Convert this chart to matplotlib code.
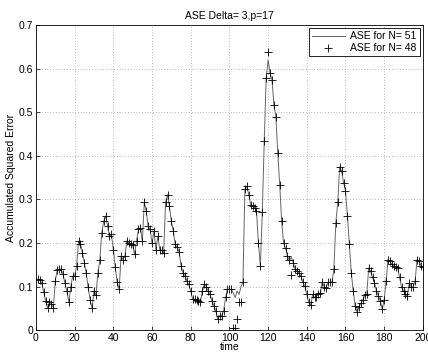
import numpy as np
import matplotlib
matplotlib.use("Agg")
import matplotlib.pyplot as plt

plt.rcParams['font.family'] = ['Liberation Sans', 'DejaVu Sans']

time = list(range(1, 201))

ase51 = [0.117, 0.116, 0.108, 0.088, 0.068, 0.050, 0.064, 0.060, 0.052, 0.113,
         0.138, 0.140, 0.140, 0.128, 0.108, 0.090, 0.064, 0.100, 0.124, 0.125,
         0.147, 0.204, 0.198, 0.178, 0.155, 0.130, 0.098, 0.070, 0.050, 0.090,
         0.080, 0.130, 0.160, 0.222, 0.250, 0.262, 0.240, 0.215, 0.220, 0.185,
         0.144, 0.110, 0.094, 0.170, 0.162, 0.170, 0.205, 0.200, 0.198, 0.195,
         0.174, 0.205, 0.231, 0.235, 0.205, 0.293, 0.273, 0.239, 0.231, 0.200,
         0.227, 0.185, 0.215, 0.185, 0.183, 0.176, 0.293, 0.311, 0.284, 0.250,
         0.227, 0.197, 0.190, 0.180, 0.147, 0.132, 0.125, 0.113, 0.105, 0.090,
         0.071, 0.071, 0.069, 0.067, 0.064, 0.090, 0.105, 0.100, 0.090, 0.082,
         0.067, 0.056, 0.044, 0.025, 0.033, 0.033, 0.044, 0.075, 0.094, 0.094,
         0.094, 0.085, 0.075, 0.090, 0.082, 0.100, 0.110, 0.323, 0.330, 0.311,
         0.288, 0.284, 0.281, 0.273, 0.200, 0.147, 0.270, 0.433, 0.578, 0.620,
         0.590, 0.574, 0.517, 0.490, 0.407, 0.334, 0.250, 0.200, 0.188, 0.170,
         0.160, 0.167, 0.155, 0.140, 0.136, 0.130, 0.124, 0.110, 0.101, 0.082,
         0.064, 0.057, 0.082, 0.075, 0.077, 0.082, 0.086, 0.110, 0.100, 0.097,
         0.110, 0.110, 0.110, 0.140, 0.246, 0.293, 0.374, 0.365, 0.338, 0.320,
         0.262, 0.197, 0.132, 0.090, 0.056, 0.041, 0.053, 0.062, 0.070, 0.080,
         0.082, 0.143, 0.135, 0.121, 0.109, 0.090, 0.079, 0.067, 0.048, 0.070,
         0.113, 0.162, 0.159, 0.151, 0.148, 0.145, 0.143, 0.121, 0.098, 0.090,
         0.082, 0.079, 0.109, 0.098, 0.100, 0.113, 0.162, 0.159, 0.148, 0.145]

ase48 = [0.117, 0.116, 0.108, 0.088, 0.068, 0.050, 0.064, 0.060, 0.052, 0.113,
         0.138, 0.140, 0.140, 0.128, 0.108, 0.090, 0.064, 0.100, 0.124, 0.125,
         0.147, 0.204, 0.198, 0.178, 0.155, 0.130, 0.098, 0.070, 0.050, 0.090,
         0.080, 0.130, 0.160, 0.222, 0.250, 0.262, 0.240, 0.215, 0.220, 0.185,
         0.144, 0.110, 0.094, 0.170, 0.162, 0.170, 0.205, 0.200, 0.198, 0.195,
         0.174, 0.205, 0.231, 0.235, 0.205, 0.293, 0.273, 0.239, 0.231, 0.200,
         0.227, 0.185, 0.215, 0.185, 0.183, 0.176, 0.293, 0.311, 0.284, 0.250,
         0.227, 0.197, 0.190, 0.180, 0.147, 0.132, 0.125, 0.113, 0.105, 0.090,
         0.071, 0.071, 0.069, 0.067, 0.064, 0.090, 0.105, 0.100, 0.090, 0.082,
         0.067, 0.056, 0.044, 0.025, 0.033, 0.033, 0.044, 0.075, 0.094, 0.094,
         0.094, 0.005, 0.005, 0.025, 0.064, 0.064, 0.110, 0.323, 0.330, 0.311,
         0.288, 0.284, 0.281, 0.273, 0.200, 0.147, 0.270, 0.433, 0.578, 0.637,
         0.590, 0.574, 0.517, 0.490, 0.407, 0.334, 0.250, 0.200, 0.188, 0.170,
         0.160, 0.126, 0.155, 0.140, 0.136, 0.130, 0.124, 0.110, 0.101, 0.082,
         0.064, 0.057, 0.082, 0.075, 0.077, 0.082, 0.086, 0.110, 0.100, 0.097,
         0.110, 0.110, 0.110, 0.140, 0.246, 0.293, 0.374, 0.365, 0.338, 0.320,
         0.262, 0.197, 0.132, 0.090, 0.056, 0.041, 0.053, 0.062, 0.070, 0.080,
         0.082, 0.143, 0.135, 0.121, 0.109, 0.090, 0.079, 0.067, 0.048, 0.070,
         0.113, 0.162, 0.159, 0.151, 0.148, 0.145, 0.143, 0.121, 0.098, 0.090,
         0.082, 0.079, 0.109, 0.098, 0.100, 0.113, 0.162, 0.159, 0.148, 0.145]

fig = plt.figure(figsize=(4.28, 3.52), dpi=100)
ax = fig.add_axes([0.084, 0.062, 0.904, 0.867])

ax.plot(time, ase51, '-', color='#666666', lw=0.7, label='ASE for N= 51')
ax.plot(time, ase48, '+', color='black', ms=6, mew=0.6, label='ASE for N= 48')

ax.set_xlim(0, 200)
ax.set_ylim(0, 0.7)
ax.set_xticks(np.arange(0, 201, 20))
ax.set_yticks(np.arange(0, 0.71, 0.1))
ax.set_yticklabels(['0', '0.1', '0.2', '0.3', '0.4', '0.5', '0.6', '0.7'])
ax.tick_params(direction='in', labelsize=7.5, length=3, width=0.5, pad=2)
ax.grid(True, linestyle=(0, (1, 3)), color='black', lw=0.5, alpha=0.5)
for s in ax.spines.values():
    s.set_linewidth(0.6)

ax.set_title('ASE Delta= 3,p=17', fontsize=7.5, pad=4)
ax.set_xlabel('time', fontsize=7.5, labelpad=-1)
ax.set_ylabel('Accumulated Squared Error', fontsize=7.5, labelpad=2)

leg = ax.legend(loc='upper right', fontsize=7.5, fancybox=False, framealpha=1,
                edgecolor='black', borderaxespad=0.3, handlelength=3.2,
                labelspacing=0.2, borderpad=0.3, handletextpad=0.5)
leg.get_frame().set_linewidth(0.6)

plt.savefig('out.png', dpi=100)
